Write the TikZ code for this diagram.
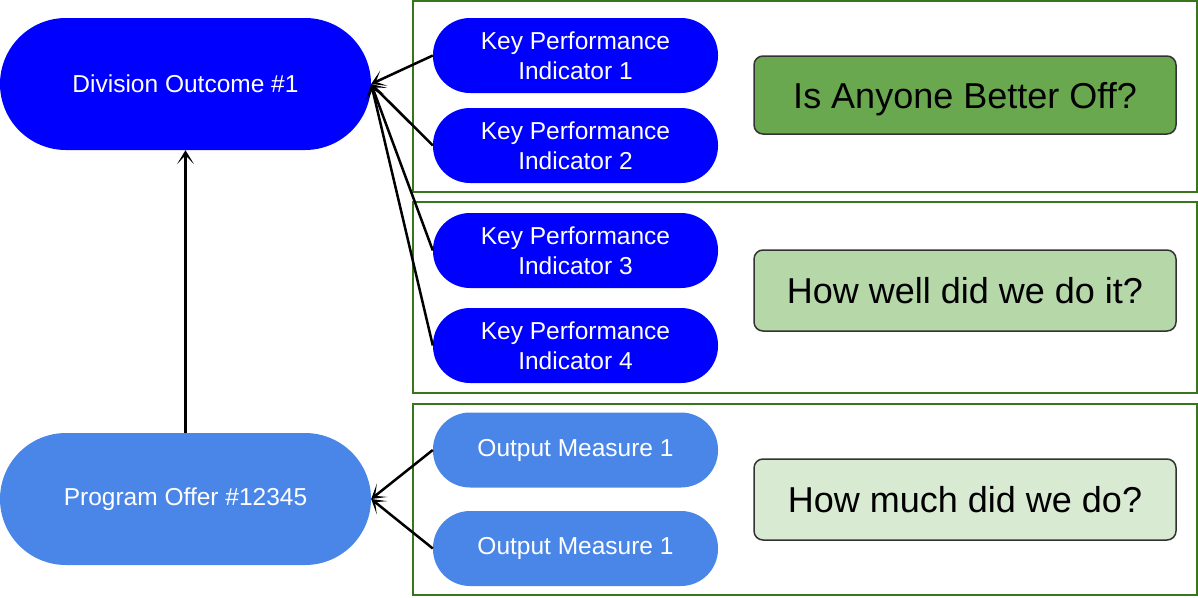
\documentclass[tikz,border=0pt]{standalone}
\usepackage{fontspec}
\setmainfont{Liberation Sans}
\usetikzlibrary{arrows.meta}
\definecolor{dblue}{HTML}{0000FF}
\definecolor{lblue}{HTML}{4A86E8}
\definecolor{gborder}{HTML}{38761D}
\definecolor{qone}{HTML}{6AA84F}
\definecolor{qtwo}{HTML}{B6D7A8}
\definecolor{qthree}{HTML}{D9EAD3}
\tikzset{
  bignode/.style={rectangle, rounded corners=66pt, minimum width=371pt, minimum height=132pt, inner sep=0pt, text=white, font=\fontsize{24.5}{30}\selectfont},
  smallnode/.style={rectangle, rounded corners=37pt, minimum width=285pt, minimum height=75pt, inner sep=0pt, text=white, align=center, font=\fontsize{24.5}{30}\selectfont},
  groupbox/.style={rectangle, draw=gborder, line width=2pt, minimum width=784pt, minimum height=191pt, inner sep=0pt},
  qbox/.style={rectangle, rounded corners=9pt, draw=black!80, line width=1.5pt, minimum width=422pt, minimum height=78pt, inner sep=0pt, text depth=0pt, font=\fontsize{36}{40}\selectfont},
  arr/.style={line width=2.5pt, -{Stealth[length=14pt,width=17pt,inset=9pt]}}
}
\begin{document}
\begin{tikzpicture}[x=1pt,y=-1pt]
\useasboundingbox (0,0) rectangle (1198,597);
% group boxes
\node[groupbox] (g1) at (805,96) {};
\node[groupbox] (g2) at (805,297) {};
\node[groupbox] (g3) at (805,499) {};
% left nodes
\node[bignode, fill=dblue] (div) at (185.5,84) {Division Outcome \#1};
\node[bignode, fill=lblue] (prog) at (185.5,499) {Program Offer \#12345};
% KPIs
\node[smallnode, fill=dblue] (k1) at (575.5,55.5) {Key Performance\\Indicator 1};
\node[smallnode, fill=dblue] (k2) at (575.5,145.5) {Key Performance\\Indicator 2};
\node[smallnode, fill=dblue] (k3) at (575.5,250.5) {Key Performance\\Indicator 3};
\node[smallnode, fill=dblue] (k4) at (575.5,345.5) {Key Performance\\Indicator 4};
\node[smallnode, fill=lblue] (o1) at (575.5,450) {Output Measure 1};
\node[smallnode, fill=lblue] (o2) at (575.5,548.5) {Output Measure 1};
% questions
\node[qbox, fill=qone] (q1) at (965,95) {Is Anyone Better Off?};
\node[qbox, fill=qtwo, minimum height=81pt] (q2) at (965,290.5) {How well did we do it?};
\node[qbox, fill=qthree, minimum height=81pt] (q3) at (965,499.5) {How much did we do?};
% arrows
\draw[arr] (prog.north) -- (div.south);
\draw[arr] (k1.west) -- (div.east);
\draw[arr] (k2.west) -- (div.east);
\draw[arr] (k3.west) -- (div.east);
\draw[arr] (k4.west) -- (div.east);
\draw[arr] (o1.west) -- (prog.east);
\draw[arr] (o2.west) -- (prog.east);
\end{tikzpicture}
\end{document}
